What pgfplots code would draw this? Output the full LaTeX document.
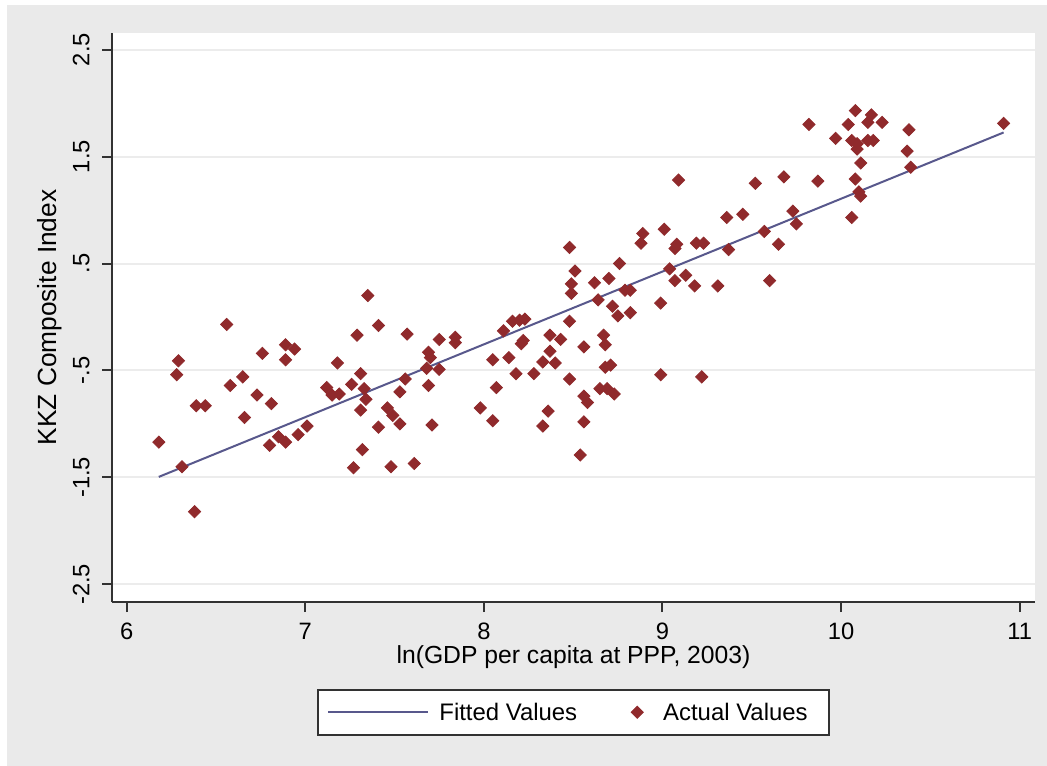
\documentclass[border=0pt]{standalone}
\usepackage{pgfplots}
\pgfplotsset{compat=1.18}
\usepackage{fontspec}
\setmainfont{Liberation Sans}
\definecolor{bggray}{RGB}{234,234,234}
\definecolor{gridgray}{RGB}{236,236,236}
\definecolor{fitline}{RGB}{88,88,140}
\definecolor{markred}{RGB}{144,42,44}
\definecolor{axisgray}{RGB}{50,50,50}
\newcommand\chartfont{\fontsize{11.9}{14}\selectfont}
\newcommand\xlabfont{\fontsize{12.4}{14}\selectfont}
\newcommand\ylabfont{\fontsize{13.2}{15}\selectfont}
\newcommand\legfont{\fontsize{12}{14}\selectfont}
\pgfplotsset{
  fitlegend/.style={legend image code/.code={\path[draw=none] (-5bp,0) -- (55.5bp,0); \draw[##1] (0bp,0) -- (50bp,0);}},
  dotlegend/.style={legend image code/.code={\path[draw=none] (0bp,0) -- (43bp,0); \draw[##1] plot coordinates {(30bp,0bp)};}},
}
\pgfplotstableread{
x y
7.35 0.20
6.56 -0.07
7.29 -0.17
6.89 -0.26
6.94 -0.30
6.76 -0.34
6.29 -0.41
6.89 -0.40
7.18 -0.43
6.28 -0.54
7.31 -0.53
6.65 -0.56
6.58 -0.64
7.12 -0.66
7.26 -0.63
7.15 -0.73
7.19 -0.72
7.33 -0.67
6.73 -0.73
6.81 -0.81
6.39 -0.83
6.44 -0.83
7.31 -0.87
7.34 -0.77
6.66 -0.94
7.01 -1.02
6.85 -1.12
6.89 -1.17
6.96 -1.10
6.80 -1.20
6.18 -1.17
7.32 -1.24
6.31 -1.40
7.27 -1.41
6.38 -1.82
7.41 -0.08
7.57 -0.16
7.75 -0.21
7.84 -0.19
7.84 -0.24
8.11 -0.13
8.16 -0.04
8.20 -0.03
8.23 -0.02
8.22 -0.22
8.21 -0.25
8.48 -0.04
8.37 -0.17
8.43 -0.21
8.37 -0.32
8.33 -0.42
8.40 -0.43
8.05 -0.40
8.14 -0.38
8.18 -0.53
8.28 -0.53
7.69 -0.33
7.70 -0.38
7.68 -0.48
7.75 -0.49
7.56 -0.58
7.53 -0.70
7.69 -0.64
7.46 -0.85
7.49 -0.92
7.53 -1.00
7.41 -1.03
7.71 -1.01
8.07 -0.66
7.98 -0.85
8.05 -0.97
8.36 -0.88
8.33 -1.02
8.48 -0.58
8.56 -0.28
8.56 -0.74
8.58 -0.80
8.56 -0.98
8.54 -1.29
7.48 -1.40
7.61 -1.37
8.49 0.31
8.49 0.22
9.36 0.93
9.45 0.96
9.73 0.99
9.75 0.87
9.57 0.80
9.65 0.68
9.37 0.63
9.01 0.82
8.89 0.78
8.88 0.69
9.08 0.68
9.07 0.64
9.19 0.69
9.23 0.69
9.04 0.45
9.07 0.34
9.13 0.39
9.18 0.29
9.31 0.29
9.60 0.34
8.99 0.13
8.76 0.50
8.51 0.43
8.48 0.65
8.62 0.32
8.70 0.36
8.64 0.16
8.79 0.25
8.82 0.25
8.72 0.10
8.75 0.01
8.82 0.04
8.67 -0.17
8.68 -0.26
8.71 -0.45
8.68 -0.47
8.99 -0.54
9.22 -0.56
8.65 -0.67
8.69 -0.67
8.73 -0.72
9.09 1.28
9.52 1.25
9.68 1.31
9.82 1.80
10.08 1.93
10.04 1.80
10.17 1.89
10.15 1.82
10.23 1.82
9.97 1.67
10.06 1.65
10.09 1.62
10.09 1.57
10.15 1.65
10.18 1.65
10.38 1.75
10.37 1.55
10.39 1.40
10.11 1.44
9.87 1.27
10.08 1.29
10.10 1.17
10.11 1.13
10.06 0.93
10.91 1.81
}\actual
\begin{document}
\begin{tikzpicture}[x=0.5bp,y=-0.5bp]
\fill[white] (0,0) rectangle (1047,766);
\fill[bggray] (7,5) rectangle (1047,766);
\begin{axis}[
  at={(56bp,-301bp)}, anchor=south west,
  scale only axis, width=461.5bp, height=284.5bp,
  xmin=5.918, xmax=11.086, ymin=-2.665, ymax=2.655,
  axis background/.style={fill=white},
  axis x line*=bottom, axis y line*=left,
  axis line style={axisgray, line width=1bp, -},
  xtick={6,7,8,9,10,11}, xticklabels={6,7,8,9,10,11},
  ytick={-2.5,-1.5,-0.5,0.5,1.5,2.5},
  yticklabels={-2.5,-1.5,-.5,.5,1.5,2.5},
  tick align=outside, major tick length=5bp,
  tick style={axisgray, line width=1bp},
  ymajorgrids, grid style={gridgray, line width=1bp},
  ticklabel style={font=\chartfont, text=black},
  xticklabel style={anchor=north, inner ysep=5.5bp},
  yticklabel style={rotate=90, anchor=south, inner ysep=6bp},
  xlabel={ln(GDP per capita at PPP, 2003)},
  ylabel={KKZ Composite Index},
  xlabel style={font=\xlabfont, at={(axis description cs:0.5,0)}, anchor=north, inner sep=0pt, yshift=-21.5bp},
  ylabel style={font=\ylabfont, at={(axis description cs:0,0.5)}, anchor=south, inner sep=0pt, yshift=25bp},
  legend columns=2,
  legend cell align=left,
  legend style={at={(axis description cs:0.5,0)}, anchor=north, yshift=-43.5bp,
    draw=axisgray, line width=1bp, fill=white, inner xsep=0pt, inner ysep=6.8bp,
    font=\legfont, nodes={inner sep=0pt, text depth=0pt},
    /tikz/every even column/.style={column sep=0pt}},
]
\addplot[fitline, line width=1bp, fitlegend]
  coordinates {(6.18,-1.495) (10.91,1.725)};
\addlegendentry{Fitted Values}
\addplot[only marks, mark=square*, mark size=2.15bp,
  mark options={rotate=45, fill=markred, draw=markred, line width=0.4bp}, dotlegend]
  table[x=x, y=y] {\actual};
\addlegendentry{Actual Values\rule{10.5bp}{0pt}}
\end{axis}
\end{tikzpicture}
\end{document}
